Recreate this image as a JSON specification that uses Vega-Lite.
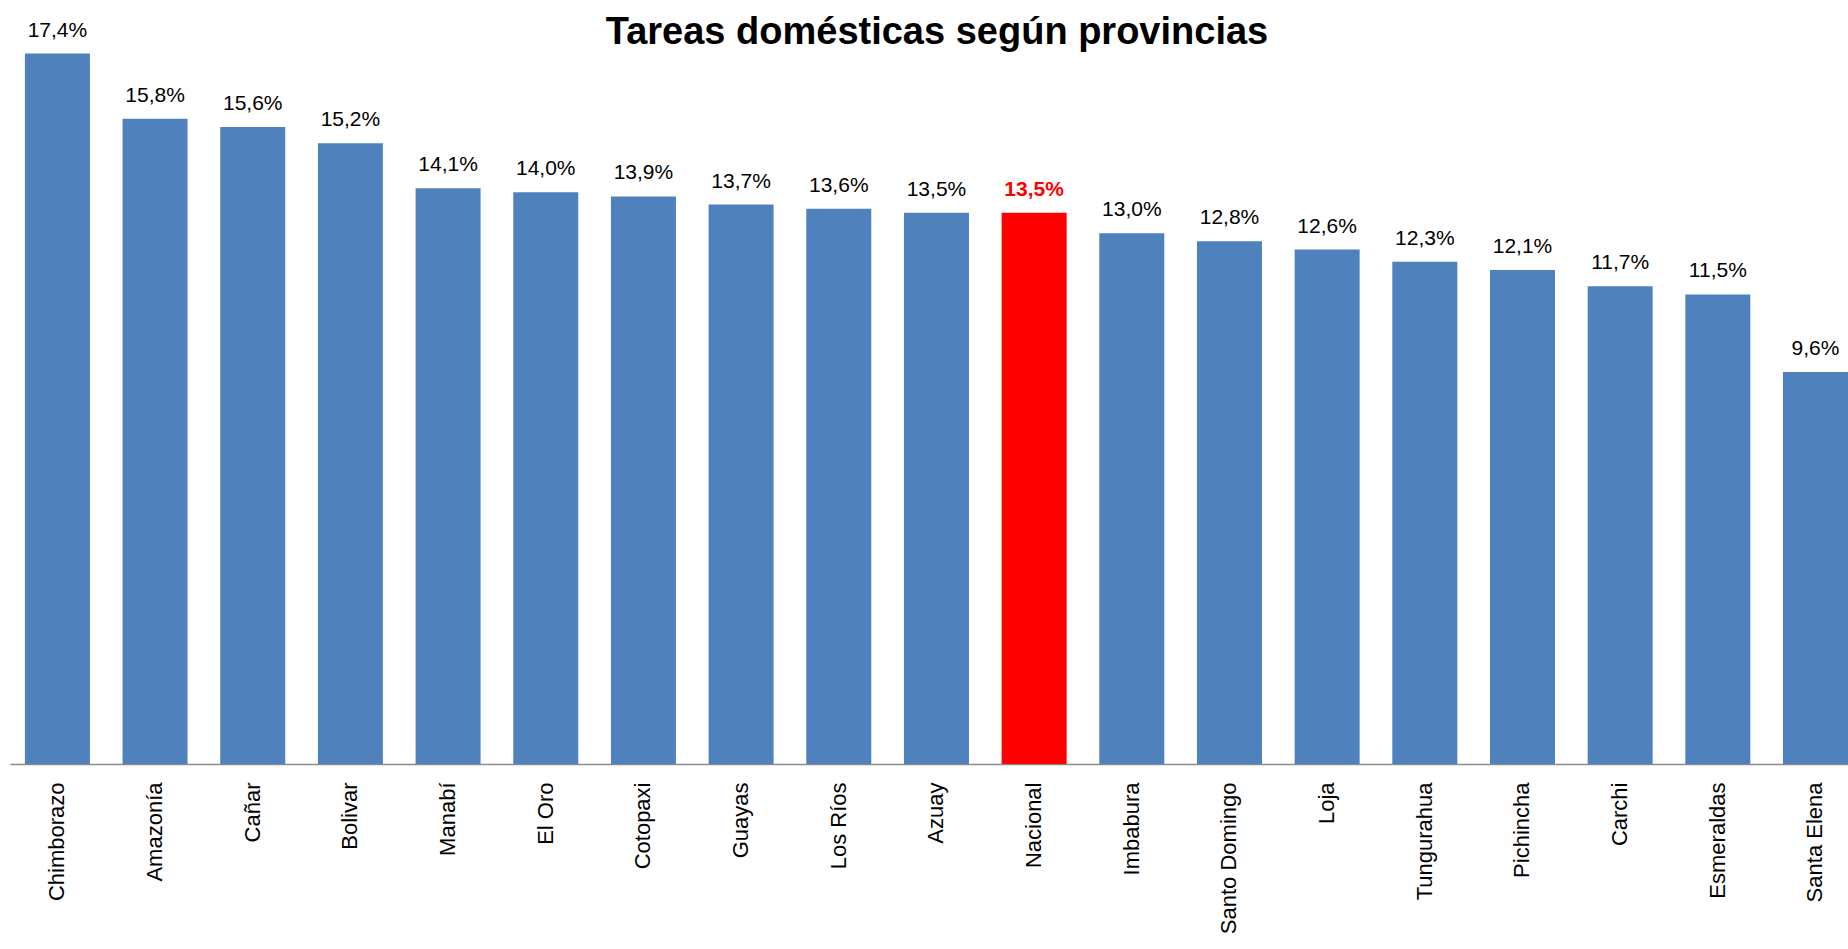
{
  "$schema": "https://vega.github.io/schema/vega-lite/v6.json",
  "autosize": {"type": "none"},
  "padding": {"left": 10, "top": 29, "right": 0, "bottom": 185},
  "width": 1838,
  "height": 735,
  "config": {
    "view": {"stroke": null},
    "locale": {"number": {"decimal": ",", "thousands": ".", "grouping": [3], "currency": ["", ""]}}
  },
  "title": {
    "text": "Tareas domésticas según provincias",
    "font": "Liberation Sans",
    "fontSize": 38,
    "fontWeight": "bold",
    "color": "#000000",
    "anchor": "middle",
    "baseline": "alphabetic",
    "offset": 0,
    "dy": 62,
    "dx": 8
  },
  "data": {
    "values": [
      {"provincia": "Chimborazo", "valor": 0.174, "tipo": "provincia"},
      {"provincia": "Amazonía", "valor": 0.158, "tipo": "provincia"},
      {"provincia": "Cañar", "valor": 0.156, "tipo": "provincia"},
      {"provincia": "Bolivar", "valor": 0.152, "tipo": "provincia"},
      {"provincia": "Manabí", "valor": 0.141, "tipo": "provincia"},
      {"provincia": "El Oro", "valor": 0.140, "tipo": "provincia"},
      {"provincia": "Cotopaxi", "valor": 0.139, "tipo": "provincia"},
      {"provincia": "Guayas", "valor": 0.137, "tipo": "provincia"},
      {"provincia": "Los Ríos", "valor": 0.136, "tipo": "provincia"},
      {"provincia": "Azuay", "valor": 0.135, "tipo": "provincia"},
      {"provincia": "Nacional", "valor": 0.135, "tipo": "nacional"},
      {"provincia": "Imbabura", "valor": 0.130, "tipo": "provincia"},
      {"provincia": "Santo Domingo", "valor": 0.128, "tipo": "provincia"},
      {"provincia": "Loja", "valor": 0.126, "tipo": "provincia"},
      {"provincia": "Tungurahua", "valor": 0.123, "tipo": "provincia"},
      {"provincia": "Pichincha", "valor": 0.121, "tipo": "provincia"},
      {"provincia": "Carchi", "valor": 0.117, "tipo": "provincia"},
      {"provincia": "Esmeraldas", "valor": 0.115, "tipo": "provincia"},
      {"provincia": "Santa Elena", "valor": 0.096, "tipo": "provincia"}
    ]
  },
  "encoding": {
    "x": {
      "field": "provincia",
      "type": "nominal",
      "sort": null,
      "scale": {"paddingInner": 0.3345, "paddingOuter": 0.0763, "align": 1},
      "axis": {
        "title": null,
        "labelAngle": -90,
        "labelFont": "Liberation Sans",
        "labelFontSize": 22,
        "labelColor": "#000000",
        "labelPadding": 18,
        "ticks": false,
        "domainColor": "#8c8c8c",
        "domainWidth": 1.5
      }
    },
    "y": {
      "field": "valor",
      "type": "quantitative",
      "scale": {"domain": [0, 0.18], "nice": false},
      "axis": null
    }
  },
  "layer": [
    {
      "mark": {"type": "bar"},
      "encoding": {
        "color": {
          "field": "tipo",
          "type": "nominal",
          "scale": {"domain": ["provincia", "nacional"], "range": ["#4F81BD", "#FF0000"]},
          "legend": null
        }
      }
    },
    {
      "transform": [{"filter": "datum.tipo === 'provincia'"}],
      "mark": {"type": "text", "baseline": "alphabetic", "dy": -17, "font": "Liberation Sans", "fontSize": 21, "color": "#000000"},
      "encoding": {"text": {"field": "valor", "type": "quantitative", "format": ".1%"}}
    },
    {
      "transform": [{"filter": "datum.tipo === 'nacional'"}],
      "mark": {"type": "text", "baseline": "alphabetic", "dy": -17, "font": "Liberation Sans", "fontSize": 21, "fontWeight": "bold", "color": "#FF0000"},
      "encoding": {"text": {"field": "valor", "type": "quantitative", "format": ".1%"}}
    }
  ]
}
